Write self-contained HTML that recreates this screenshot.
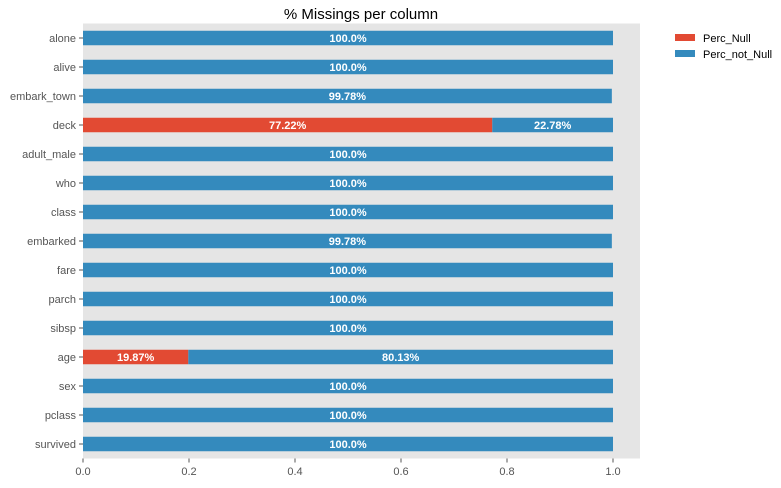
<!DOCTYPE html>
<html><head><meta charset="utf-8"><style>
body{margin:0;background:#fff;font-family:"Liberation Sans","DejaVu Sans",sans-serif}
svg text{font-family:"Liberation Sans","DejaVu Sans",sans-serif}
</style></head><body>
<svg id="chart" width="781" height="483" xmlns="http://www.w3.org/2000/svg">
<text x="361" y="19" text-anchor="middle" font-size="15" fill="#000">% Missings per column</text>
<rect x="83" y="23.5" width="557" height="435" fill="#e5e5e5"/>
<g id="bars"></g>
<g id="yaxis"></g>
<g id="xaxis"></g>
<g>
<rect x="675" y="34" width="20" height="7" fill="#e24a33"/>
<text x="703" y="42" font-size="11" fill="#000">Perc_Null</text>
<rect x="675" y="50" width="20" height="7" fill="#348abd"/>
<text x="703" y="58" font-size="11" fill="#000">Perc_not_Null</text>
</g>
</svg>
<script>
const categories=["survived","pclass","sex","age","sibsp","parch","fare","embarked","class","who","adult_male","deck","embark_town","alive","alone"];
const percNull=[0,0,0,0.1987,0,0,0,0,0,0,0,0.7722,0,0,0];
const percNotNull=[1,1,1,0.8013,1,1,1,0.9978,1,1,1,0.2278,0.9978,1,1];
const xTicks=[0,0.2,0.4,0.6,0.8,1.0];
const NS="http://www.w3.org/2000/svg";
const X0=83,XS=530,YB=444,YStep=29,BH=14.5;
function xs(v){return X0+v*XS;}
function ys(i){return YB-i*YStep;}
function mk(tag,attrs,parent){const e=document.createElementNS(NS,tag);for(const k in attrs)e.setAttribute(k,attrs[k]);parent.appendChild(e);return e;}
function fmt(v){let s=(Math.round(v*10000)/100).toString();if(s.indexOf('.')<0)s+='.0';return s+'%';}
const bars=document.getElementById('bars'),ya=document.getElementById('yaxis'),xa=document.getElementById('xaxis');
categories.forEach((c,i)=>{
  const y=ys(i);
  const n=percNull[i],nn=percNotNull[i];
  if(n>0){
    const r=mk('rect',{x:xs(0),y:y-BH/2,width:xs(n)-xs(0),height:BH,fill:'#e24a33'},bars);
    
    
    const t=mk('text',{x:(xs(0)+xs(n))/2,y:y+4,'text-anchor':'middle','font-size':11,'font-weight':'bold',fill:'#fff'},bars);
    
    
    t.textContent=fmt(n);
  }
  const r2=mk('rect',{x:xs(n),y:y-BH/2,width:xs(n+nn)-xs(n),height:BH,fill:'#348abd'},bars);
  
  
  const t2=mk('text',{x:(xs(n)+xs(n+nn))/2,y:y+4,'text-anchor':'middle','font-size':11,'font-weight':'bold',fill:'#fff'},bars);
  
  
  t2.textContent=fmt(nn);
  const tk=mk('line',{x1:X0-4,x2:X0,y1:y,y2:y,stroke:'#555'},ya);
  
  
  const lb=mk('text',{x:X0-7,y:y+4,'text-anchor':'end','font-size':11,fill:'#555'},ya);
  
  
  lb.textContent=c;
});
xTicks.forEach(v=>{
  const tk=mk('line',{x1:xs(v),x2:xs(v),y1:458.5,y2:462.5,stroke:'#555'},xa);
  
  
  const lb=mk('text',{x:xs(v),y:475,'text-anchor':'middle','font-size':11,fill:'#555'},xa);
  
  
  lb.textContent=v.toFixed(1);
});
</script>
</body></html>
